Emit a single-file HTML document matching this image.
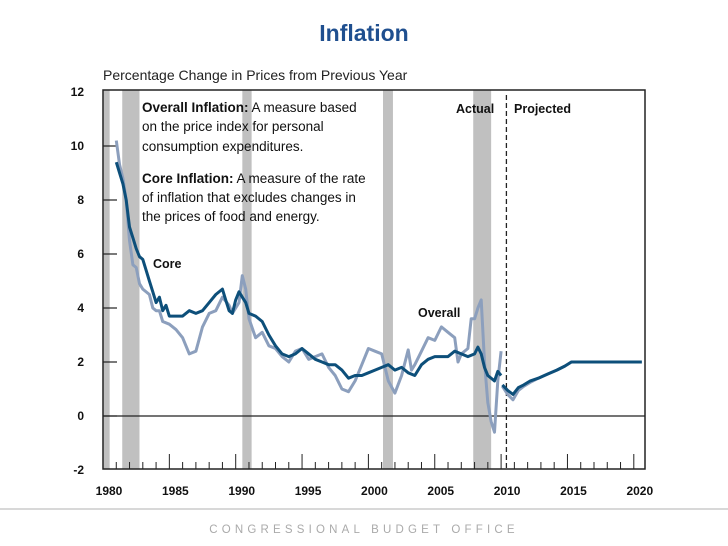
<!DOCTYPE html>
<html><head><meta charset="utf-8"><style>
html,body{margin:0;padding:0;background:#fff;}
svg{display:block;font-family:"Liberation Sans",sans-serif;}
</style></head><body>
<svg id="chart" width="728" height="546" viewBox="0 0 728 546">
<text x="364" y="41" text-anchor="middle" font-size="23" font-weight="bold" fill="#1f4f8f">Inflation</text>
<text x="103" y="80" font-size="14" fill="#222">Percentage Change in Prices from Previous Year</text>
<g id="bars"></g>
<g id="grid"></g>
<g id="series"></g>
<g font-size="13.5" fill="#111">
<text x="142" y="112"><tspan font-weight="bold">Overall Inflation:</tspan> A measure based</text>
<text x="142" y="131">on the price index for personal</text>
<text x="142" y="151">consumption expenditures.</text>
<text x="142" y="183"><tspan font-weight="bold">Core Inflation:</tspan> A measure of the rate</text>
<text x="142" y="202">of inflation that excludes changes in</text>
<text x="142" y="221">the prices of food and energy.</text>
</g>
<text x="153" y="268" font-size="12.5" font-weight="bold" fill="#111">Core</text>
<text x="418" y="317" font-size="12.5" font-weight="bold" fill="#111">Overall</text>
<text x="456" y="113" font-size="12.5" font-weight="bold" fill="#111">Actual</text>
<text x="514" y="113" font-size="12.5" font-weight="bold" fill="#111">Projected</text>
<line x1="0" y1="509" x2="728" y2="509" stroke="#ccc" stroke-width="1.5"/>
<text x="364" y="533" text-anchor="middle" font-size="11.5" fill="#aaa" letter-spacing="4.2">CONGRESSIONAL BUDGET OFFICE</text>
</svg>
<script>
const recessionStarts = [1980.05, 1981.45, 1990.5, 2001.1, 2007.9];
const recessionEnds   = [1980.5, 1982.75, 1991.2, 2001.85, 2009.25];
const yTicks = [12, 10, 8, 6, 4, 2, 0, -2];
const xLabels = [1980, 1985, 1990, 1995, 2000, 2005, 2010, 2015, 2020];
const coreYears = [1981,1981.25,1981.5,1981.75,1982,1982.25,1982.5,1982.75,1983,1983.25,1983.5,1983.75,1984,1984.25,1984.5,1984.75,1985,1985.5,1986,1986.5,1987,1987.5,1988,1988.5,1989,1989.25,1989.5,1989.75,1990,1990.25,1990.5,1990.75,1991,1991.5,1992,1992.5,1993,1993.5,1994,1994.5,1995,1995.5,1996,1996.5,1997,1997.5,1998,1998.5,1999,1999.5,2000,2000.5,2001,2001.5,2002,2002.5,2003,2003.5,2004,2004.5,2005,2005.5,2006,2006.5,2007,2007.5,2008,2008.25,2008.5,2008.75,2009,2009.5,2009.75,2010];
const coreValues = [9.4,9.0,8.6,8.0,7.0,6.6,6.2,5.9,5.8,5.4,5.0,4.6,4.2,4.4,3.9,4.1,3.7,3.7,3.7,3.9,3.8,3.9,4.2,4.5,4.7,4.3,3.9,3.8,4.3,4.6,4.4,4.2,3.8,3.7,3.5,3.0,2.6,2.3,2.2,2.3,2.5,2.3,2.1,2.0,1.9,1.9,1.7,1.4,1.5,1.5,1.6,1.7,1.8,1.9,1.7,1.8,1.6,1.5,1.9,2.1,2.2,2.2,2.2,2.4,2.3,2.2,2.3,2.55,2.3,1.8,1.5,1.3,1.65,1.5];
const overallYears = [1981,1981.25,1981.5,1981.75,1982,1982.25,1982.5,1982.75,1983,1983.5,1983.75,1984,1984.25,1984.5,1985,1985.5,1986,1986.5,1987,1987.5,1988,1988.5,1989,1989.5,1989.75,1990,1990.25,1990.5,1990.75,1991,1991.5,1992,1992.5,1993,1993.5,1994,1994.5,1995,1995.5,1996,1996.5,1997,1997.5,1998,1998.5,1999,1999.5,2000,2000.5,2001,2001.5,2002,2002.5,2003,2003.25,2003.5,2004,2004.5,2005,2005.5,2006,2006.5,2006.75,2007,2007.5,2007.75,2008,2008.25,2008.5,2008.75,2009,2009.25,2009.5,2009.75,2010];
const overallValues = [10.2,9.3,8.8,8.0,6.5,5.6,5.5,4.9,4.7,4.5,4.0,3.9,3.9,3.5,3.4,3.2,2.9,2.3,2.4,3.3,3.8,3.9,4.4,4.1,3.8,4.0,4.2,5.2,4.7,3.6,2.9,3.1,2.6,2.5,2.2,2.0,2.4,2.5,2.1,2.2,2.3,1.8,1.5,1.0,0.9,1.3,1.9,2.5,2.4,2.3,1.3,0.85,1.5,2.45,1.7,1.9,2.4,2.9,2.8,3.3,3.1,2.9,2.0,2.3,2.5,3.6,3.6,4.0,4.3,2.0,0.5,-0.2,-0.6,1.3,2.4];
const projYears = [2010.1,2010.5,2010.9,2011.3,2011.7,2012.2,2012.8,2013.5,2014.2,2014.8,2015.3,2016,2017,2018,2019,2020,2020.6];
const projCore = [1.15,0.95,0.8,1.05,1.15,1.3,1.4,1.55,1.7,1.85,2.0,2.0,2.0,2.0,2.0,2.0,2.0];
const projOverall = [1.1,0.8,0.6,0.95,1.1,1.25,1.4,1.55,1.7,1.85,2.0,2.0,2.0,2.0,2.0,2.0,2.0];

const NS = "http://www.w3.org/2000/svg";
const X0 = 103, PX_YR = 13.27, Y0 = 416, PX_UNIT = 27;
function xs(yr){ return X0 + (yr - 1980) * PX_YR; }
function ys(v){ return Y0 - v * PX_UNIT; }
function mk(tag, attrs, parent){ const e = document.createElementNS(NS, tag); for (const k in attrs) e.setAttribute(k, attrs[k]); parent.appendChild(e); return e; }
const barsG = document.getElementById('bars'), gridG = document.getElementById('grid'), serG = document.getElementById('series');
const plotTop = 90, plotBottom = 469, plotRight = 645;

recessionStarts.forEach((s, i) => {
  const r = mk('rect', {x: xs(s), y: plotTop, width: xs(recessionEnds[i]) - xs(s), height: plotBottom - plotTop, fill: '#c0c0c0'}, barsG);
  
  
});

const box = mk('rect', {x: X0, y: plotTop, width: plotRight - X0, height: plotBottom - plotTop, fill: 'none', stroke: '#222', 'stroke-width': 1.5}, gridG);


const zl = mk('line', {x1: X0, x2: plotRight, y1: ys(0), y2: ys(0), stroke: '#222', 'stroke-width': 1.2}, gridG);



yTicks.forEach(v => {
  if (v > -2 && v < 12) {
    const t = mk('line', {x1: X0, x2: X0 + 14, y1: ys(v), y2: ys(v), stroke: '#222', 'stroke-width': 1.2}, gridG);
    
    
  }
  const tx = mk('text', {x: 84, y: ys(v) + 4, 'text-anchor': 'end', 'font-size': 12, 'font-weight': 'bold', fill: '#111'}, gridG);
  tx.textContent = v;
  
  
});

for (let yr = 1981; yr <= 2020; yr++) {
  const major = (yr % 5 === 0);
  const t = mk('line', {x1: xs(yr), x2: xs(yr), y1: plotBottom, y2: plotBottom - (major ? 15 : 7), stroke: '#222', 'stroke-width': 1}, gridG);
  
  
}
xLabels.forEach(yr => {
  const tx = mk('text', {x: xs(yr) + 6, y: 495, 'text-anchor': 'middle', 'font-size': 12, 'font-weight': 'bold', fill: '#111'}, gridG);
  tx.textContent = yr;
  
  
});

const dl = mk('line', {x1: xs(2010.4), x2: xs(2010.4), y1: 95, y2: plotBottom, stroke: '#222', 'stroke-width': 1.3, 'stroke-dasharray': '5,3'}, gridG);



function line(yrs, vals, color, w, name){
  const d = yrs.map((y, i) => (i ? 'L' : 'M') + xs(y).toFixed(1) + ' ' + ys(vals[i]).toFixed(1)).join(' ');
  const p = mk('path', {d: d, fill: 'none', stroke: color, 'stroke-width': w, 'stroke-linejoin': 'round'}, serG);
  
  
}
line(overallYears, overallValues, '#8c9fbd', 3, 'overall-line');
line(projYears, projOverall, '#8c9fbd', 3, 'overall-projection-line');
line(coreYears, coreValues, '#0d4f7a', 3, 'core-line');
line(projYears, projCore, '#0d4f7a', 3, 'core-projection-line');
</script>
</body></html>
